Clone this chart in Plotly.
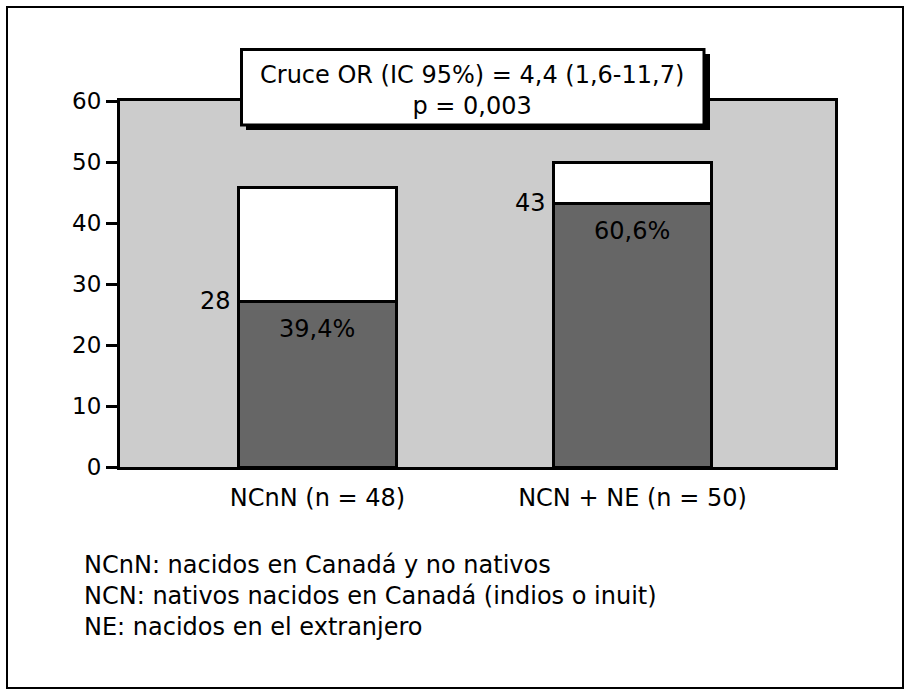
import plotly.graph_objects as go

# ---------------- data ----------------
categories = ["NCnN (n = 48)", "NCN + NE (n = 50)"]
dark_values = [27.2, 43.2]          # dark (lower) segment
total_values = [45.8, 50.0]         # total bar height
count_labels = ["28", "43"]
pct_labels = ["39,4%", "60,6%"]
y_ticks = [0, 10, 20, 30, 40, 50, 60]
box_lines = ["Cruce OR (IC 95%) = 4,4 (1,6-11,7)", "p = 0,003"]
footnote_lines = [
    "NCnN: nacidos en Canadá y no nativos",
    "NCN: nativos nacidos en Canadá (indios o inuit)",
    "NE: nacidos en el extranjero",
]

white_values = [t - d for t, d in zip(total_values, dark_values)]
x_pos = list(range(len(categories)))

W, H = 910, 698
L, R, T, B = 120, 75, 101, 231
PW, PH = W - L - R, H - T - B
FONT = "DejaVu Sans"
BAR_W = 0.5


def px_x(px):
    return (px - L) / PW


def px_y(py):
    return (H - B - py) / PH


fig = go.Figure()
fig.add_trace(go.Bar(
    x=x_pos, y=dark_values, width=BAR_W,
    marker=dict(color="#666666", line=dict(color="black", width=3)),
    hoverinfo="skip", showlegend=False,
))
fig.add_trace(go.Bar(
    x=x_pos, y=white_values, width=BAR_W,
    marker=dict(color="white", line=dict(color="black", width=3)),
    hoverinfo="skip", showlegend=False,
))

annotations = []
for i, (d, c, p) in enumerate(zip(dark_values, count_labels, pct_labels)):
    annotations.append(dict(
        x=x_pos[i] - BAR_W / 2, y=d, xref="x", yref="y", text=c,
        showarrow=False, xanchor="right", yanchor="middle", xshift=-6,
        font=dict(family=FONT, size=24, color="black"),
    ))
    annotations.append(dict(
        x=x_pos[i], y=d, xref="x", yref="y", text=p,
        showarrow=False, xanchor="center", yanchor="middle", yshift=-28,
        font=dict(family=FONT, size=24, color="black"),
    ))

# OR box text
annotations.append(dict(
    x=px_x(472), y=px_y(90), xref="paper", yref="paper",
    text="<br>".join(box_lines), showarrow=False,
    xanchor="center", yanchor="middle", align="center",
    font=dict(family=FONT, size=24, color="black"),
))
# footnote
annotations.append(dict(
    x=px_x(82), y=px_y(596), xref="paper", yref="paper",
    text="<br>".join(footnote_lines), showarrow=False,
    xanchor="left", yanchor="middle", align="left",
    font=dict(family=FONT, size=24, color="black"),
))

shapes = [
    # outer frame
    dict(type="rect", xref="paper", yref="paper",
         x0=px_x(7), x1=px_x(903), y0=px_y(688), y1=px_y(7),
         line=dict(color="black", width=2), fillcolor="rgba(0,0,0,0)", layer="below"),
    # shadow of OR box
    dict(type="rect", xref="paper", yref="paper",
         x0=px_x(246), x1=px_x(710), y0=px_y(130), y1=px_y(54),
         line=dict(width=0), fillcolor="black", layer="above"),
    # OR box
    dict(type="rect", xref="paper", yref="paper",
         x0=px_x(241.5), x1=px_x(704), y0=px_y(125), y1=px_y(49.5),
         line=dict(color="black", width=3), fillcolor="white", layer="above"),
]

fig.update_layout(
    width=W, height=H,
    margin=dict(l=L, r=R, t=T, b=B, pad=0),
    paper_bgcolor="white", plot_bgcolor="#cccccc",
    barmode="stack", bargap=0,
    font=dict(family=FONT, size=24, color="black"),
    annotations=annotations, shapes=shapes,
    showlegend=False,
)
fig.update_xaxes(
    range=[-0.627, 1.643], tickvals=x_pos, ticktext=categories,
    showgrid=False, zeroline=False,
    showline=True, linecolor="black", linewidth=3, mirror=True,
    ticks="", ticklabelstandoff=7,
    tickfont=dict(family=FONT, size=24, color="black"),
    fixedrange=True,
)
fig.update_yaxes(
    range=[0, 60], tickvals=y_ticks,
    showgrid=False, zeroline=False,
    showline=True, linecolor="black", linewidth=3, mirror=True,
    ticks="outside", ticklen=11, tickwidth=3, tickcolor="black",
    ticklabelstandoff=0,
    tickfont=dict(family=FONT, size=23, color="black"),
    fixedrange=True,
)

fig.write_html(
    "out.html",
    config={"displayModeBar": False, "staticPlot": True},
    post_script="document.body.style.margin='0';document.body.style.overflow='hidden';",
)
